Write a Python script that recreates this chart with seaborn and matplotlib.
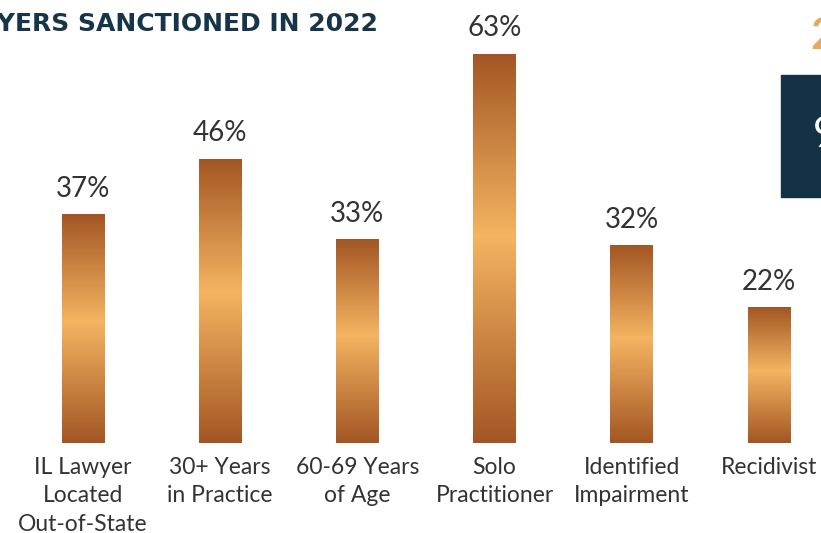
import numpy as np
import seaborn as sns
import matplotlib.pyplot as plt
from matplotlib.colors import LinearSegmentedColormap
from matplotlib.patches import Rectangle

categories = ["IL Lawyer\nLocated\nOut-of-State", "30+ Years\nin Practice", "60-69 Years\nof Age",
              "Solo\nPractitioner", "Identified\nImpairment", "Recidivist"]
values = [37, 46, 33, 63, 32, 22]
title = "LAWYERS SANCTIONED IN 2022"

sns.set_style("white")
plt.rcParams['font.family'] = ['Lato', 'DejaVu Sans']

fig = plt.figure(figsize=(8.21, 5.33), dpi=100)
ax = fig.add_axes([0, 0.169, 1, 0.831])

sns.barplot(x=categories, y=values, ax=ax, width=0.313, color="#c97f3e")

# copper gradient: dark at top and bottom, light in the middle
copper = LinearSegmentedColormap.from_list(
    "copper", [(0, "#a35624"), (0.47, "#f4b461"), (1, "#a35624")])
grad = np.linspace(0, 1, 256).reshape(-1, 1)
for p in list(ax.patches):
    x0, y0 = p.get_x(), p.get_y()
    w, h = p.get_width(), p.get_height()
    im = ax.imshow(grad, extent=[x0, x0 + w, y0, y0 + h], aspect="auto",
                   cmap=copper, origin="upper", zorder=2)
    im.set_clip_path(p)
    p.set_facecolor("none")
    p.set_edgecolor("none")
ax.set_xlim(-0.605, 5.379)
ax.set_ylim(0, 71.7)

for i, v in enumerate(values):
    ax.annotate(f"{v}%", (i, v), xytext=(0, 9), textcoords="offset points",
                ha="center", va="bottom", fontsize=20, color="#333333")

ax.set_xticks(range(len(categories)))
ax.set_xticklabels(categories, fontsize=16.5, color="#333333", linespacing=1.45)
ax.tick_params(axis="x", length=0, pad=10)
ax.set_yticks([])
sns.despine(ax=ax, left=True, bottom=True)

fig.text(378 / 821, 1 - 24 / 533, title, ha="right", va="center",
         fontsize=18, fontweight="bold", color="#17354a",
         family=["DejaVu Sans"])

# partial side panel at the right edge
fig.patches.append(Rectangle((781 / 821, 1 - 197 / 533), 40 / 821, 122 / 533,
                             transform=fig.transFigure, color="#143246", zorder=0))
fig.text(810 / 821, 1 - 36 / 533, "2", ha="left", va="center", fontsize=32,
         fontweight="bold", color="#e8a868")
fig.text(813 / 821, 1 - 135 / 533, "9", ha="left", va="center", fontsize=30,
         color="white", zorder=3)

fig.savefig("out.png", dpi=100)
